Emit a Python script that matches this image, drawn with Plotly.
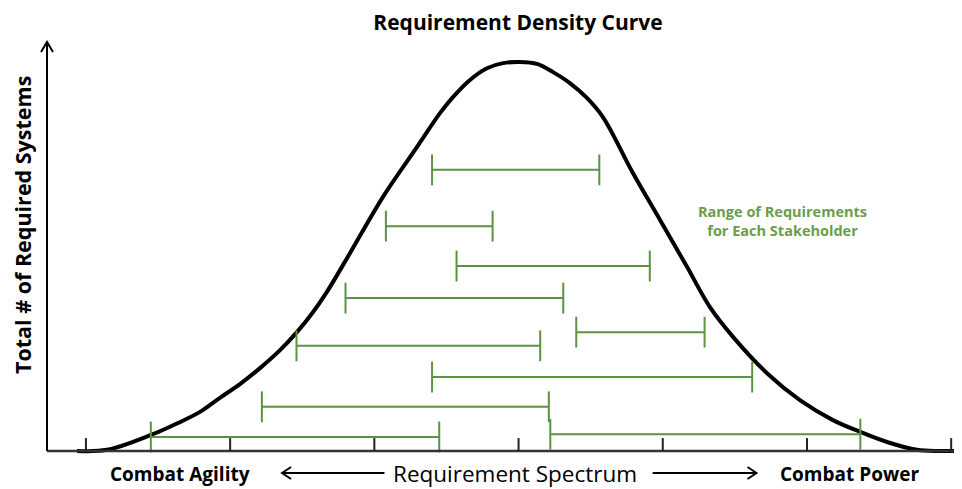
import plotly.graph_objects as go

# spectrum position (tick units 0..6) and relative number of required systems (peak ~100)
CURVE_X = [-0.062, 0.146, 0.451, 0.652, 0.791, 0.929, 1.068, 1.207, 1.346, 1.463, 1.574,
           1.671, 1.831, 2.060, 2.295, 2.455, 2.545, 2.663, 2.781, 2.892, 3.010, 3.128,
           3.239, 3.356, 3.474, 3.585, 3.793, 3.981, 4.168, 4.327, 4.487, 4.723, 4.951,
           5.180, 5.368, 5.555, 5.763, 5.922, 6.07]
CURVE_Y = [0.0, 0.3, 4.1, 7.4, 10.0, 13.6, 17.1, 21.2, 25.8, 30.4, 35.5,
           40.7, 50.6, 65.0, 77.7, 86.4, 90.5, 94.9, 97.9, 99.2, 99.5, 99.0,
           96.9, 94.1, 90.3, 85.4, 71.1, 59.1, 47.1, 36.8, 29.2, 19.9, 13.0,
           7.9, 4.9, 2.3, 0.3, 0.0, 0.0]

# stakeholder requirement ranges
RANGE_Y = [71.9, 57.5, 47.3, 39.1, 30.4, 26.9, 18.9, 11.3, 3.6, 4.3]
RANGE_LO = [2.40, 2.08, 2.57, 1.80, 3.40, 1.46, 2.40, 1.22, 0.45, 3.22]
RANGE_HI = [3.56, 2.82, 3.91, 3.31, 4.29, 3.15, 4.62, 3.21, 2.45, 5.37]

TICKS = [0, 1, 2, 3, 4, 5, 6]

GREEN = '#5a9440'
FONT = 'Open Sans'

fig = go.Figure()

fig.add_trace(
    go.Scatter(
        x=CURVE_X,
        y=CURVE_Y,
        mode='lines',
        line=dict(color='black', width=4, shape='spline', smoothing=1),
        hoverinfo='skip',
    )
)

for y, lo, hi in zip(RANGE_Y, RANGE_LO, RANGE_HI):
    fig.add_trace(
        go.Scatter(
            x=[lo, hi],
            y=[y, y],
            mode='lines+markers',
            line=dict(color=GREEN, width=2),
            marker=dict(symbol='line-ns-open', size=22, line=dict(color=GREEN, width=2)),
            cliponaxis=False,
        )
    )

shapes = []
# baseline and vertical axis
shapes.append(dict(type='line', xref='paper', yref='y', x0=0, x1=1, y0=0, y1=0,
                   line=dict(color='#333333', width=2.5)))
shapes.append(dict(type='line', xref='paper', yref='paper', x0=0, x1=0, y0=0.0097, y1=1,
                   line=dict(color='black', width=2)))
shapes.append(dict(type='path', xref='paper', yref='paper', xsizemode='pixel', ysizemode='pixel',
                   xanchor=0, yanchor=1, path='M -6,-10 L 0,0 L 6,-10',
                   line=dict(color='black', width=2)))
for t in TICKS:
    shapes.append(dict(type='line', xref='x', yref='y', x0=t, x1=t, y0=0, y1=3.3,
                       line=dict(color='#222222', width=2)))

# bottom arrows
arrow_y = -0.0436
shapes.append(dict(type='line', xref='x', yref='paper', x0=1.36, x1=2.07, y0=arrow_y, y1=arrow_y,
                   line=dict(color='black', width=2)))
shapes.append(dict(type='path', xref='x', yref='paper', xsizemode='pixel', ysizemode='pixel',
                   xanchor=1.36, yanchor=arrow_y, path='M 9,6 L 0,0 L 9,-6',
                   line=dict(color='black', width=2)))
shapes.append(dict(type='line', xref='x', yref='paper', x0=3.93, x1=4.65, y0=arrow_y, y1=arrow_y,
                   line=dict(color='black', width=2)))
shapes.append(dict(type='path', xref='x', yref='paper', xsizemode='pixel', ysizemode='pixel',
                   xanchor=4.65, yanchor=arrow_y, path='M -9,6 L 0,0 L -9,-6',
                   line=dict(color='black', width=2)))

label_y = -0.046
annotations = [
    dict(text='<b>Combat Agility</b>', x=0.652, y=label_y, xref='x', yref='paper',
         xanchor='center', yanchor='middle', showarrow=False,
         font=dict(size=19, color='black', family=FONT)),
    dict(text='Requirement Spectrum', x=2.975, y=label_y, xref='x', yref='paper',
         xanchor='center', yanchor='middle', showarrow=False,
         font=dict(size=22.5, color='black', family=FONT, weight=500)),
    dict(text='<b>Combat Power</b>', x=5.298, y=label_y, xref='x', yref='paper',
         xanchor='center', yanchor='middle', showarrow=False,
         font=dict(size=19, color='black', family=FONT)),
    dict(text='<b>Range of Requirements<br>for Each Stakeholder</b>', x=4.827, y=58.8,
         xref='x', yref='y', xanchor='center', yanchor='middle', showarrow=False, align='center',
         font=dict(size=14.5, color='#6a9e4a', family=FONT)),
    dict(text='<b>Total # of Required Systems</b>', x=0, xshift=-25, y=57.8,
         xref='paper', yref='y', xanchor='center', yanchor='middle', showarrow=False, textangle=-90,
         font=dict(size=21.5, color='black', family=FONT)),
]

fig.update_layout(
    width=954,
    height=481,
    margin=dict(l=39, r=0, t=34, b=34),
    paper_bgcolor='white',
    plot_bgcolor='white',
    showlegend=False,
    title=dict(text='<b>Requirement Density Curve</b>', x=510 / 954, xanchor='center',
               y=1 - 15 / 481, yanchor='middle', pad=dict(t=0, b=0),
               font=dict(size=21, color='black', family=FONT)),
    xaxis=dict(range=[-0.270, 6.075], visible=False, fixedrange=True),
    yaxis=dict(range=[-1.02, 104.6], visible=False, fixedrange=True),
    shapes=shapes,
    annotations=annotations,
)

fig.write_html('out.html')
